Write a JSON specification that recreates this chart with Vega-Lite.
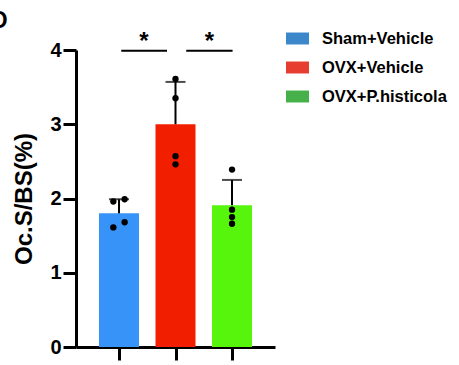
{
  "$schema": "https://vega.github.io/schema/vega-lite/v6.json",
  "width": 199,
  "height": 297,
  "autosize": {"type": "none"},
  "padding": {"left": 76, "top": 50, "right": 184, "bottom": 18},
  "background": "white",
  "title": {"text": "D", "anchor": "start", "frame": "group", "fontSize": 23, "fontWeight": "bold", "font": "Liberation Sans", "dx": -85, "offset": -24, "baseline": "alphabetic", "color": "black"},
  "datasets": {
    "bars": [
      {"group": "Sham+Vehicle", "x": 1, "mean": 1.80, "upper": 1.99},
      {"group": "OVX+Vehicle", "x": 2, "mean": 3.00, "upper": 3.57},
      {"group": "OVX+P.histicola", "x": 3, "mean": 1.91, "upper": 2.25}
    ],
    "points": [
      {"group": "Sham+Vehicle", "x": 0.9, "value": 1.61},
      {"group": "Sham+Vehicle", "x": 1.1, "value": 1.68},
      {"group": "Sham+Vehicle", "x": 0.9, "value": 1.96},
      {"group": "Sham+Vehicle", "x": 1.1, "value": 1.99},
      {"group": "OVX+Vehicle", "x": 2, "value": 3.61},
      {"group": "OVX+Vehicle", "x": 2, "value": 3.35},
      {"group": "OVX+Vehicle", "x": 2, "value": 2.57},
      {"group": "OVX+Vehicle", "x": 2, "value": 2.46},
      {"group": "OVX+P.histicola", "x": 3, "value": 2.39},
      {"group": "OVX+P.histicola", "x": 3, "value": 1.85},
      {"group": "OVX+P.histicola", "x": 3, "value": 1.75},
      {"group": "OVX+P.histicola", "x": 3, "value": 1.66}
    ],
    "sig": [
      {"x1": 1.04, "x2": 1.85, "y": 3.99, "mid": 1.44, "label": "*"},
      {"x1": 2.19, "x2": 3.01, "y": 3.99, "mid": 2.6, "label": "*"}
    ]
  },
  "layer": [
    {
      "data": {"name": "bars"},
      "mark": {"type": "bar", "size": 40, "opacity": 0},
      "encoding": {
        "x": {"field": "x", "type": "quantitative", "scale": {"domain": [0.328, 3.672], "nice": false, "zero": false},
              "axis": {"values": [1, 2, 3], "labels": false, "ticks": true, "tickSize": 13, "tickWidth": 3, "domainWidth": 3, "grid": false, "title": null, "domainColor": "black", "tickColor": "black"}},
        "y": {"field": "mean", "type": "quantitative", "scale": {"domain": [0, 4], "nice": false},
              "axis": {"values": [0, 1, 2, 3, 4], "format": "d", "tickSize": 13, "tickWidth": 3, "domainWidth": 3, "grid": false, "domainColor": "black", "tickColor": "black",
                       "labelFontSize": 20, "labelFontWeight": "bold", "labelFont": "Liberation Sans", "labelColor": "black", "labelPadding": 2,
                       "title": "Oc.S/BS(%)", "titleFontSize": 24, "titleFontWeight": "bold", "titleFont": "Liberation Sans", "titleColor": "black", "titlePadding": 13}},
        "color": {"field": "group", "type": "nominal",
                  "scale": {"domain": ["Sham+Vehicle", "OVX+Vehicle", "OVX+P.histicola"], "range": ["#3b87ca", "#e63d30", "#46b14b"]},
                  "legend": {"title": null, "orient": "none", "legendX": 210, "legendY": -23, "padding": 0,
                             "symbolType": "M-1,-0.52L1,-0.52L1,0.52L-1,0.52Z", "symbolSize": 529, "symbolStrokeWidth": 0, "symbolOpacity": 1,
                             "labelFontSize": 16.5, "labelFontWeight": "bold", "labelFont": "Liberation Sans", "labelColor": "black", "labelOffset": 13, "rowPadding": 9, "labelLimit": 200}}
      }
    },
    {
      "data": {"name": "bars"},
      "mark": {"type": "bar", "size": 40},
      "encoding": {
        "x": {"field": "x", "type": "quantitative"},
        "y": {"field": "mean", "type": "quantitative"},
        "fill": {"field": "group", "type": "nominal",
                 "scale": {"domain": ["Sham+Vehicle", "OVX+Vehicle", "OVX+P.histicola"], "range": ["#3793f8", "#f21e00", "#57f50c"]},
                 "legend": null}
      }
    },
    {
      "data": {"name": "bars"},
      "mark": {"type": "rule", "color": "black", "strokeWidth": 2},
      "encoding": {
        "x": {"field": "x", "type": "quantitative"},
        "y": {"field": "mean", "type": "quantitative"},
        "y2": {"field": "upper"}
      }
    },
    {
      "data": {"name": "bars"},
      "mark": {"type": "tick", "orient": "horizontal", "color": "black", "size": 20, "thickness": 2},
      "encoding": {
        "x": {"field": "x", "type": "quantitative"},
        "y": {"field": "upper", "type": "quantitative"}
      }
    },
    {
      "data": {"name": "points"},
      "mark": {"type": "circle", "color": "black", "size": 40, "opacity": 1},
      "encoding": {
        "x": {"field": "x", "type": "quantitative"},
        "y": {"field": "value", "type": "quantitative"}
      }
    },
    {
      "data": {"name": "sig"},
      "mark": {"type": "rule", "color": "black", "strokeWidth": 1.8},
      "encoding": {
        "x": {"field": "x1", "type": "quantitative"},
        "x2": {"field": "x2"},
        "y": {"field": "y", "type": "quantitative"}
      }
    },
    {
      "data": {"name": "sig"},
      "mark": {"type": "text", "fontSize": 24, "fontWeight": "bold", "font": "Liberation Sans", "color": "black", "baseline": "alphabetic", "dy": -2},
      "encoding": {
        "x": {"field": "mid", "type": "quantitative"},
        "y": {"field": "y", "type": "quantitative"},
        "text": {"field": "label"}
      }
    }
  ],
  "config": {"view": {"stroke": null}, "font": "Liberation Sans"}
}
